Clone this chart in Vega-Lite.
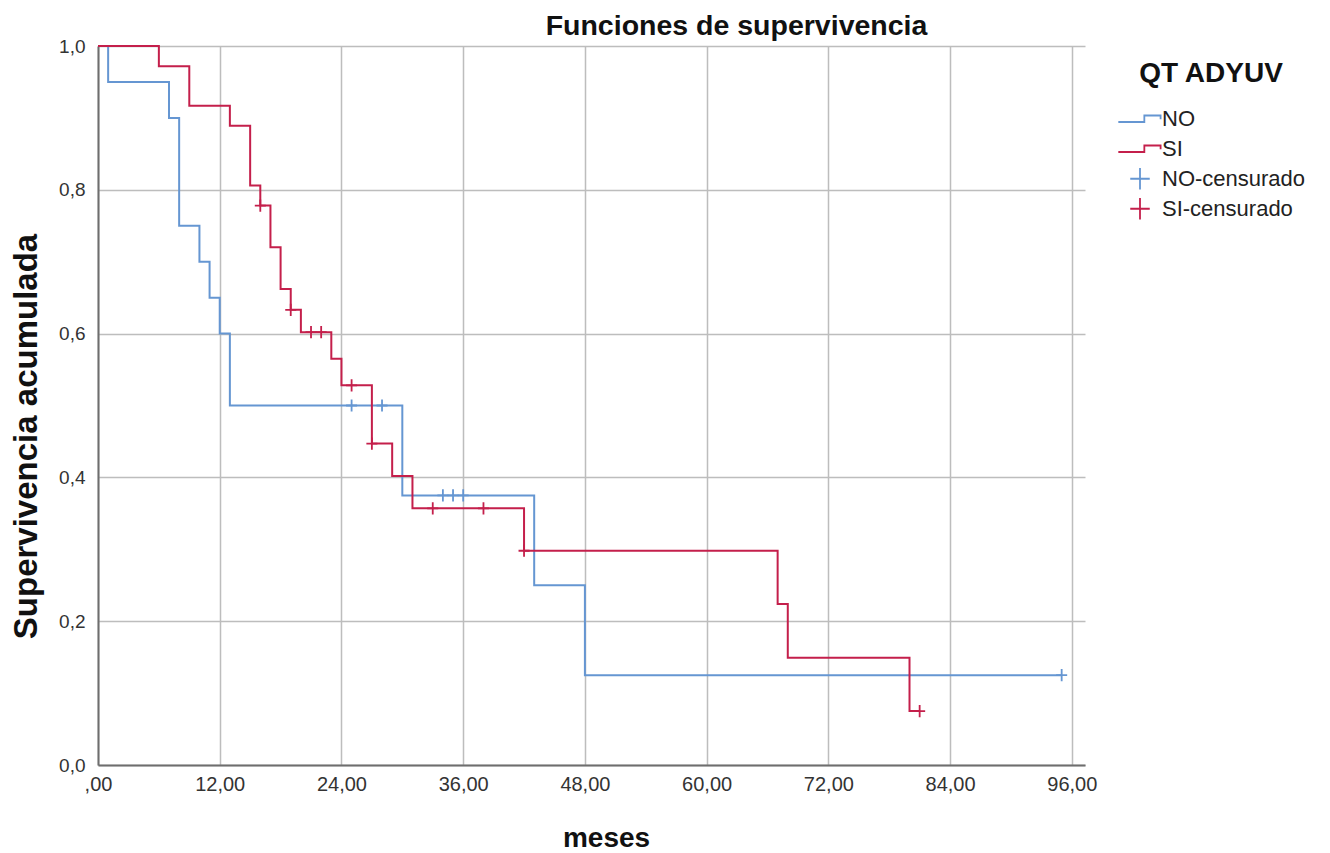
{
  "$schema": "https://vega.github.io/schema/vega-lite/v6.json",
  "autosize": {"type": "none"},
  "padding": {"left": 98, "top": 46, "right": 245, "bottom": 88},
  "width": 987,
  "height": 719,
  "background": "white",
  "config": {"view": {"stroke": null}, "font": "Liberation Sans", "point": {"size": 150}},
  "title": {"text": "Funciones de supervivencia", "fontSize": 28.5, "fontWeight": "bold", "font": "Liberation Sans", "color": "#111111", "anchor": "middle", "dx": 145, "offset": -3},
  "datasets": {
    "curvas": [
      {"grupo": "NO", "t": 0, "s": 1.0},
      {"grupo": "NO", "t": 1, "s": 0.95},
      {"grupo": "NO", "t": 7, "s": 0.90},
      {"grupo": "NO", "t": 8, "s": 0.75},
      {"grupo": "NO", "t": 10, "s": 0.70},
      {"grupo": "NO", "t": 11, "s": 0.65},
      {"grupo": "NO", "t": 12, "s": 0.60},
      {"grupo": "NO", "t": 13, "s": 0.50},
      {"grupo": "NO", "t": 30, "s": 0.375},
      {"grupo": "NO", "t": 43, "s": 0.25},
      {"grupo": "NO", "t": 48, "s": 0.125},
      {"grupo": "NO", "t": 95, "s": 0.125},
      {"grupo": "SI", "t": 0, "s": 1.0},
      {"grupo": "SI", "t": 6, "s": 0.972},
      {"grupo": "SI", "t": 9, "s": 0.917},
      {"grupo": "SI", "t": 13, "s": 0.889},
      {"grupo": "SI", "t": 15, "s": 0.806},
      {"grupo": "SI", "t": 16, "s": 0.778},
      {"grupo": "SI", "t": 17, "s": 0.72},
      {"grupo": "SI", "t": 18, "s": 0.662},
      {"grupo": "SI", "t": 19, "s": 0.633},
      {"grupo": "SI", "t": 20, "s": 0.602},
      {"grupo": "SI", "t": 23, "s": 0.565},
      {"grupo": "SI", "t": 24, "s": 0.528},
      {"grupo": "SI", "t": 27, "s": 0.447},
      {"grupo": "SI", "t": 29, "s": 0.402},
      {"grupo": "SI", "t": 31, "s": 0.357},
      {"grupo": "SI", "t": 42, "s": 0.298},
      {"grupo": "SI", "t": 67, "s": 0.224},
      {"grupo": "SI", "t": 68, "s": 0.149},
      {"grupo": "SI", "t": 80, "s": 0.075},
      {"grupo": "SI", "t": 81, "s": 0.075}
    ],
    "censuras": [
      {"grupo": "NO-censurado", "t": 25, "s": 0.5},
      {"grupo": "NO-censurado", "t": 28, "s": 0.5},
      {"grupo": "NO-censurado", "t": 34, "s": 0.375},
      {"grupo": "NO-censurado", "t": 35, "s": 0.375},
      {"grupo": "NO-censurado", "t": 36, "s": 0.375},
      {"grupo": "NO-censurado", "t": 95, "s": 0.125},
      {"grupo": "SI-censurado", "t": 16, "s": 0.778},
      {"grupo": "SI-censurado", "t": 19, "s": 0.633},
      {"grupo": "SI-censurado", "t": 21, "s": 0.602},
      {"grupo": "SI-censurado", "t": 22, "s": 0.602},
      {"grupo": "SI-censurado", "t": 25, "s": 0.528},
      {"grupo": "SI-censurado", "t": 27, "s": 0.447},
      {"grupo": "SI-censurado", "t": 33, "s": 0.357},
      {"grupo": "SI-censurado", "t": 38, "s": 0.357},
      {"grupo": "SI-censurado", "t": 42, "s": 0.298},
      {"grupo": "SI-censurado", "t": 81, "s": 0.075}
    ]
  },
  "encoding": {
    "x": {
      "field": "t", "type": "quantitative",
      "scale": {"domain": [0, 97.3], "nice": false, "zero": false},
      "axis": {
        "values": [0, 12, 24, 36, 48, 60, 72, 84, 96],
        "labelExpr": "datum.value == 0 ? ',00' : replace(format(datum.value, '.2f'), '.', ',')",
        "title": "meses", "titleFontSize": 28, "titleFontWeight": "bold", "titleColor": "#111111",
        "titleX": 508, "titleY": 73, "titleBaseline": "middle",
        "labelFontSize": 20, "labelColor": "#333333", "labelPadding": 9, "labelFlush": false, "labelOverlap": false,
        "ticks": false, "grid": true, "gridColor": "#bdbdbd", "gridWidth": 1.5,
        "domainColor": "#6e6e6e", "domainWidth": 2
      }
    },
    "y": {
      "field": "s", "type": "quantitative",
      "scale": {"domain": [0, 1], "nice": false},
      "axis": {
        "values": [0, 0.2, 0.4, 0.6, 0.8, 1.0],
        "labelExpr": "replace(format(datum.value, '.1f'), '.', ',')",
        "title": "Supervivencia acumulada", "titleFontSize": 33, "titleFontWeight": "bold", "titleColor": "#111111",
        "titleX": -72, "titleY": 390, "titleBaseline": "middle",
        "labelFontSize": 19, "labelColor": "#333333", "labelPadding": 13, "labelFlush": false, "labelOverlap": false,
        "ticks": false, "grid": true, "gridColor": "#bdbdbd", "gridWidth": 1.5,
        "domainColor": "#6e6e6e", "domainWidth": 2
      }
    }
  },
  "layer": [
    {
      "data": {"name": "curvas"},
      "mark": {"type": "line", "interpolate": "step-after", "strokeWidth": 2},
      "encoding": {
        "color": {"field": "grupo", "type": "nominal", "scale": {"domain": ["NO", "SI"], "range": ["#6596d2", "#c41f4b"]}, "legend": null}
      }
    },
    {
      "data": {"name": "censuras"},
      "mark": {"type": "point", "filled": false, "strokeWidth": 1.8, "opacity": 1},
      "encoding": {
        "color": {
          "field": "grupo", "type": "nominal",
          "scale": {"domain": ["NO", "SI", "NO-censurado", "SI-censurado"], "range": ["#6596d2", "#c41f4b", "#6596d2", "#c41f4b"]},
          "legend": {
            "title": "QT ADYUV", "orient": "none", "legendX": 1019, "legendY": 14,
            "titleFontSize": 28, "titleFontWeight": "bold", "titleColor": "#111111", "titleAnchor": "middle", "titlePadding": 16,
            "labelFontSize": 22, "labelColor": "#222222", "labelOffset": 10, "labelLimit": 300,
            "symbolSize": 470, "symbolStrokeWidth": 1.8, "symbolOffset": 11, "rowPadding": 0, "clipHeight": 29.5
          }
        },
        "shape": {
          "field": "grupo", "type": "nominal",
          "scale": {"domain": ["NO", "SI", "NO-censurado", "SI-censurado"], "range": ["M-2,0.3H0.4V-0.3H1.9V0.05", "M-2,0.3H0.4V-0.3H1.9V0.05", "M-0.9,0H0.9M0,-1V1", "M-0.9,0H0.9M0,-1V1"]},
          "legend": {
            "title": "QT ADYUV", "orient": "none", "legendX": 1019, "legendY": 14,
            "titleFontSize": 28, "titleFontWeight": "bold", "titleColor": "#111111", "titleAnchor": "middle", "titlePadding": 16,
            "labelFontSize": 22, "labelColor": "#222222", "labelOffset": 10, "labelLimit": 300,
            "symbolSize": 470, "symbolStrokeWidth": 1.8, "symbolOffset": 11, "rowPadding": 0, "clipHeight": 29.5
          }
        }
      }
    }
  ],
  "resolve": {"scale": {"color": "independent", "shape": "independent"}}
}
